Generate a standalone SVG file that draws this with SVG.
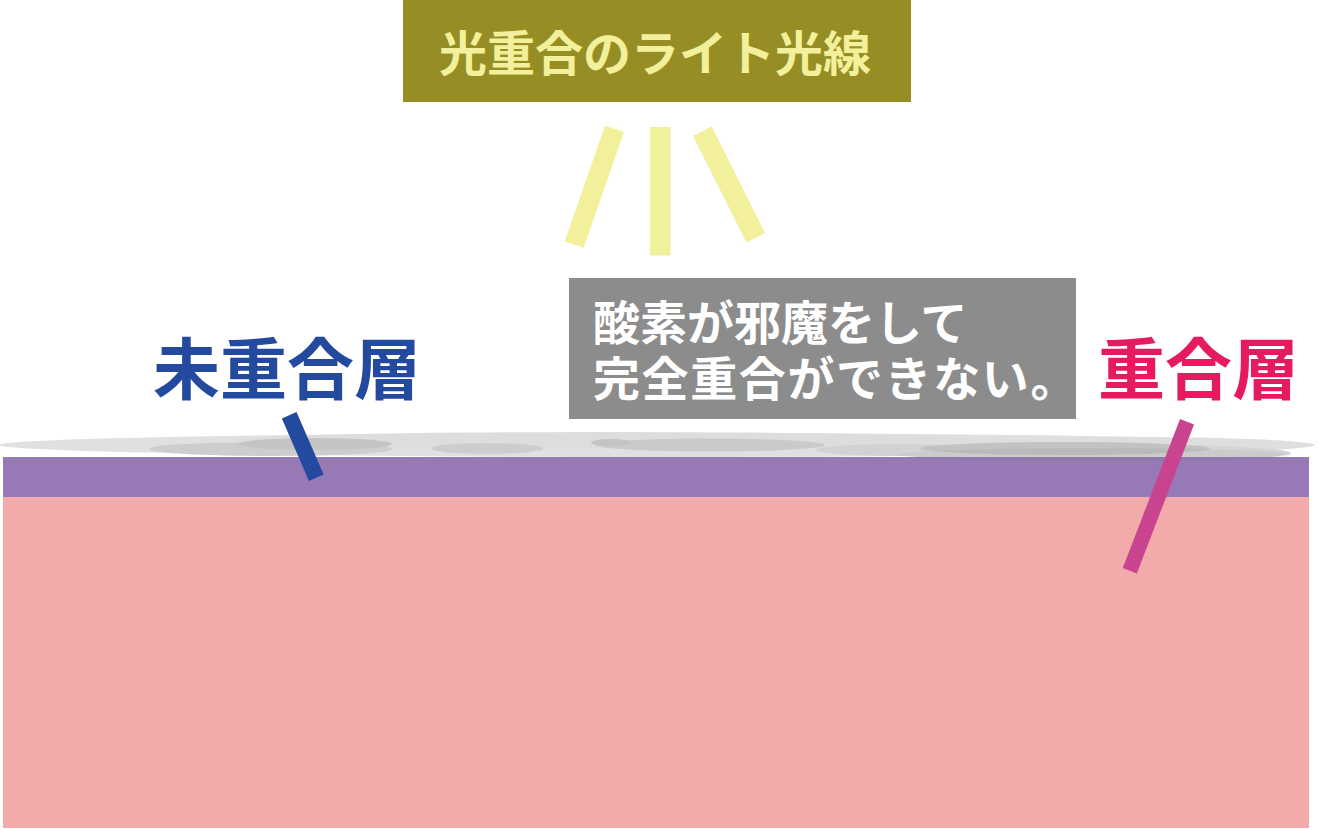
<svg xmlns="http://www.w3.org/2000/svg" width="1318" height="830" viewBox="0 0 1318 830">
  <style>
    .jp { font-family: "Noto Sans CJK JP", "Noto Sans CJK SC", sans-serif; font-weight: 700; }
    .ray { fill: #f3f09c; }
  </style>
  <rect x="0" y="0" width="1318" height="830" fill="#ffffff"/>

  <!-- surface haze (oxygen) -->
  <g id="haze">
    <ellipse cx="657" cy="445" rx="658" ry="12" fill="#e0e0e0"/>
    <ellipse cx="610" cy="440" rx="372" ry="8" fill="#dddddd"/>
    <ellipse cx="1117" cy="445" rx="197" ry="8" fill="#dedede"/>
    <ellipse cx="271" cy="449" rx="122" ry="7" fill="#cdcdcd"/>
    <ellipse cx="315" cy="444" rx="77" ry="6" fill="#c4c4c4"/>
    <ellipse cx="487" cy="448.5" rx="56" ry="5.5" fill="#cdcdcd"/>
    <ellipse cx="710" cy="445" rx="115" ry="6.5" fill="#cacaca"/>
    <ellipse cx="611" cy="442.5" rx="20" ry="3.5" fill="#c4c4c4"/>
    <ellipse cx="900" cy="450" rx="85" ry="6" fill="#d2d2d2"/>
    <ellipse cx="1094" cy="453" rx="197" ry="9" fill="#d4d4d4"/>
    <ellipse cx="1065" cy="448.5" rx="145" ry="6.5" fill="#c2c2c2"/>
  </g>

  <!-- skin layers -->
  <g id="layers">
    <rect id="layer-top" x="3" y="457" width="1306" height="40" fill="#977ab5"/>
    <rect id="layer-base" x="3" y="497" width="1306" height="331" fill="#f2aaab"/>
    <ellipse cx="1094" cy="455" rx="197" ry="7" fill="#606060" opacity="0.08"/>
  </g>

  <!-- light title -->
  <g id="light-title">
    <rect x="403" y="0" width="508" height="102" fill="#968e25"/>
    <text x="655" y="71" text-anchor="middle" class="jp" font-size="48" fill="#f3f09c">光重合のライト光線</text>
  </g>

  <!-- light rays -->
  <g id="rays">
    <line x1="614.5" y1="128.7" x2="574.2" y2="244.5" stroke="#f3f09c" stroke-width="20"/>
    <rect class="ray" x="650" y="127" width="20.5" height="128.5"/>
    <line x1="702.3" y1="131.2" x2="755.8" y2="237.8" stroke="#f3f09c" stroke-width="21"/>
  </g>

  <!-- oxygen note -->
  <g id="oxygen-note">
    <rect x="569" y="278" width="507" height="141" fill="#8c8c8c"/>
    <text x="593" y="340" class="jp" font-size="47" fill="#ffffff">酸素が邪魔をして</text>
    <text x="593" y="396" class="jp" font-size="47" fill="#ffffff" letter-spacing="1.6">完全重合ができない。</text>
  </g>

  <!-- labels -->
  <g id="label-unpolymerized">
    <text x="153" y="394" class="jp" font-size="67" fill="#234a9e">未重合層</text>
  </g>
  <g id="label-polymerized">
    <text x="1098" y="394" class="jp" font-size="67" fill="#e61a5f">重合層</text>
  </g>

  <!-- pointer connectors -->
  <g id="connectors">
    <line x1="289.2" y1="415.3" x2="316.3" y2="477.7" stroke="#234a9e" stroke-width="16"/>
    <line x1="1187" y1="421.7" x2="1129.8" y2="570.8" stroke="#c8448f" stroke-width="15"/>
  </g>
</svg>
